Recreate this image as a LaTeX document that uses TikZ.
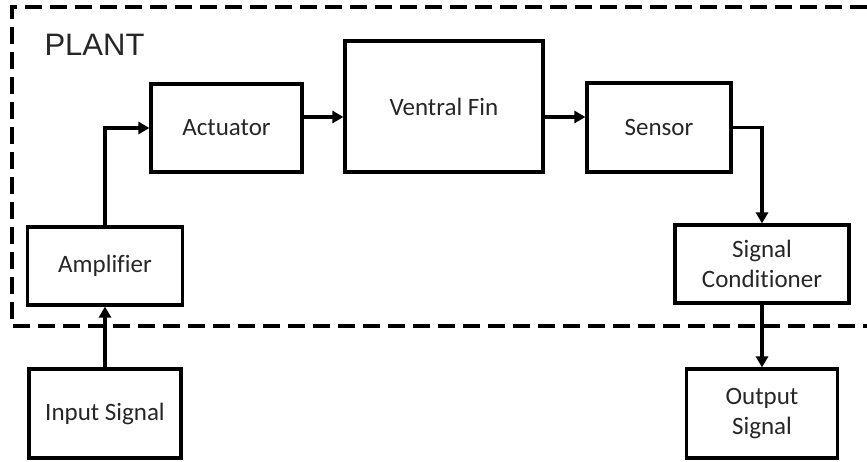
\documentclass[tikz,border=0pt]{standalone}
\usepackage{fontspec}
\setmainfont{Carlito}[RawFeature={-liga;-clig;-calt}]
\newfontfamily\plantfont{Liberation Sans}
\usepackage{tikz}
\usetikzlibrary{arrows.meta}

\begin{document}
\begin{tikzpicture}[x=1pt, y=-1pt,
    block/.style={draw, line width=3.2pt, align=center, inner sep=0pt,
                  text=black!85, font=\fontsize{25}{30}\selectfont},
    flow/.style={line width=3.4pt, -{Triangle[length=11pt, width=12pt]}}]
  \useasboundingbox (0,0) rectangle (867,461);

  % Limite de la planta
  \draw[line width=3.6pt, dash pattern=on 17pt off 8pt] (867,7) -- (12,7) -- (12,326) -- (867,326);
  \node[font=\plantfont\fontsize{31}{36}\selectfont, text=black!85, anchor=base west] (plant) at (41,55) {PLANT};

  % Bloques
  \node[block, minimum width=151pt, minimum height=88pt] (act) at (226.5,128) {Actuator};
  \node[block, minimum width=198pt, minimum height=131pt] (fin) at (444,106.5) {Ventral Fin};
  \node[block, minimum width=144pt, minimum height=89pt] (sens) at (659,127.5) {Sensor};
  \node[block, minimum width=155pt, minimum height=78pt] (amp) at (105,266) {Amplifier};
  \node[block, minimum width=152pt, minimum height=89pt] (inp) at (105,413.5) {Input Signal};
  \node[block, minimum width=174pt, minimum height=78pt] (cond) at (762,264) {Signal\\Conditioner};
  \node[block, minimum width=151pt, minimum height=89pt] (out) at (762,413.5) {Output\\Signal};

  % Conexiones
  \coordinate (lvl) at (0,117);
  \draw[flow] (inp.north) -- (amp.south);
  \draw[flow] (amp.north) |- (act.west);
  \draw[flow] (act.east |- lvl) -- (fin.west |- lvl);
  \draw[flow] (fin.east |- lvl) -- (sens.west |- lvl);
  \draw[flow] (sens.east) -| (cond.north);
  \draw[flow] (cond.south) -- (out.north);
\end{tikzpicture}
\end{document}
